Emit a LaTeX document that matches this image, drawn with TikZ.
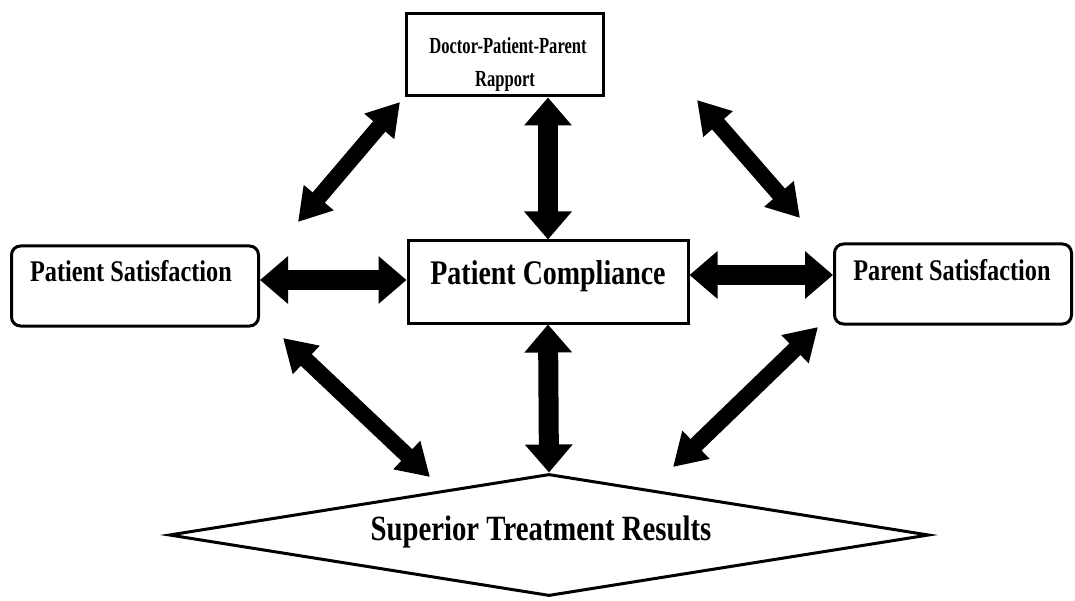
\documentclass[tikz,border=0pt]{standalone}
\usepackage{fontspec}
\setmainfont{Liberation Serif}[FakeStretch=0.81]
\newfontfamily\narrowfont{Liberation Serif}[FakeStretch=0.72]
\usetikzlibrary{arrows.meta,shapes.geometric,calc}
\begin{document}
\begin{tikzpicture}[x=1pt,y=-1pt,
  box/.style={draw,line width=3pt,inner sep=0pt},
  rbox/.style={box,rounded corners=9pt},
  lbl/.style={font=\bfseries,inner sep=0pt,anchor=base},
  fat/.style={line width=20pt,{Triangle[width=46pt,length=28pt]}-{Triangle[width=46pt,length=28pt]}},
  slimfat/.style={line width=16pt,{Triangle[width=37pt,length=32pt]}-{Triangle[width=37pt,length=32pt]}}
]
\useasboundingbox (0,0) rectangle (1075,601);
% boxes
\node[box,minimum width=197pt,minimum height=82pt] (top) at (505,55) {};
\node[box,minimum width=280pt,minimum height=82pt] (comp) at (548,282) {};
\node[rbox,minimum width=247pt,minimum height=80pt] (ps) at (135,286) {};
\node[rbox,minimum width=237pt,minimum height=80pt] (pr) at (953,284) {};
\node[draw,diamond,line width=3pt,inner sep=0pt,minimum width=760pt,minimum height=122pt] (res) at (549,535) {};
% texts
\node[lbl,font=\narrowfont\bfseries\fontsize{23}{26}\selectfont] (t1) at (508,54) {Doctor-Patient-Parent};
\node[lbl,font=\narrowfont\bfseries\fontsize{23}{26}\selectfont] (t2) at (505,87) {Rapport};
\node[lbl,font=\bfseries\fontsize{34.5}{38}\selectfont] (t3) at (548,284) {Patient Compliance};
\node[lbl,font=\bfseries\fontsize{30}{34}\selectfont] (t4) at (131,282) {Patient Satisfaction};
\node[lbl,font=\bfseries\fontsize{30}{34}\selectfont] (t5) at (952,281) {Parent Satisfaction};
\node[lbl,font=\bfseries\fontsize{35.5}{38}\selectfont] (t6) at (541,540) {Superior Treatment Results};
% arrows
\draw[fat] (comp.north |- top.south) -- (comp.north);
\draw[fat] (comp.south) -- (res.north);
\coordinate (h1) at ([yshift=6pt]ps.east);
\draw[fat] (h1) -- (h1 -| comp.west);
\coordinate (h2) at ([yshift=7pt]comp.east);
\draw[fat] (h2) -- (h2 -| pr.west);
\coordinate (a1) at (298,222); \coordinate (a2) at (400,102);
\coordinate (a3) at (697,100); \coordinate (a4) at (800,218);
\coordinate (a5) at (283,338); \coordinate (a6) at (430,477);
\coordinate (a7) at (818,327); \coordinate (a8) at (673,467);
\draw[slimfat] (a1) -- (a2);
\draw[slimfat] (a3) -- (a4);
\draw[slimfat] (a5) -- (a6);
\draw[slimfat] (a7) -- (a8);
\end{tikzpicture}
\end{document}
